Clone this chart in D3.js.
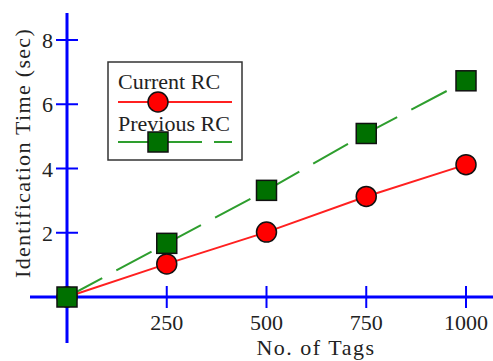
<!DOCTYPE html>
<html><head><meta charset="utf-8">
<script src="https://cdn.jsdelivr.net/npm/d3@7"></script>
<style>html,body{margin:0;padding:0;background:#fff}svg{display:block}</style>
</head><body>
<script>
const tags = [0, 250, 500, 750, 1000];
const currentRC = [0, 1.03, 2.02, 3.13, 4.12];
const previousRC = [0, 1.67, 3.32, 5.09, 6.73];
const xTicks = [250, 500, 750, 1000];
const yTicks = [2, 4, 6, 8];
const seriesNames = ["Current RC", "Previous RC"];

const W = 493, H = 361;
const svg = d3.select("body").append("svg").attr("width", W).attr("height", H);
const x = d3.scaleLinear().domain([0, 1000]).range([67, 466]);
const y = d3.scaleLinear().domain([0, 8]).range([297, 40]);
const font = "'Liberation Serif','Times New Roman',serif";
const blue = "#0000ff";

// axes lines
svg.append("line").attr("x1", x(0)).attr("x2", x(0)).attr("y1", 13).attr("y2", 343)
  .attr("stroke", blue).attr("stroke-width", 3);
svg.append("line").attr("x1", 30).attr("x2", W).attr("y1", y(0)).attr("y2", y(0))
  .attr("stroke", blue).attr("stroke-width", 3);

// y ticks
svg.selectAll(".yt").data(yTicks).enter().append("line")
  .attr("x1", x(0) - 11).attr("x2", x(0) + 11)
  .attr("y1", d => y(d)).attr("y2", d => y(d))
  .attr("stroke", blue).attr("stroke-width", 2);
svg.selectAll(".yl").data(yTicks).enter().append("text")
  .attr("x", 53).attr("y", d => y(d) + 8).attr("text-anchor", "end")
  .attr("font-family", font).attr("font-size", 22).attr("fill", "#222")
  .text(d => d);
// x ticks
svg.selectAll(".xt").data(xTicks).enter().append("line")
  .attr("x1", d => x(d)).attr("x2", d => x(d))
  .attr("y1", y(0) - 11).attr("y2", y(0) + 11)
  .attr("stroke", blue).attr("stroke-width", 2);
svg.selectAll(".xl").data(xTicks).enter().append("text")
  .attr("x", d => x(d)).attr("y", 330).attr("text-anchor", "middle")
  .attr("font-family", font).attr("font-size", 22).attr("fill", "#222")
  .text(d => d);

// axis titles
svg.append("text").attr("x", 316).attr("y", 355).attr("text-anchor", "middle")
  .attr("font-family", font).attr("font-size", 22).attr("fill", "#222")
  .attr("letter-spacing", 1.5).text("No. of Tags");
svg.append("text").attr("transform", "translate(30,153) rotate(-90)")
  .attr("text-anchor", "middle").attr("font-family", font).attr("font-size", 22)
  .attr("fill", "#222").attr("letter-spacing", 1.3).text("Identification Time (sec)");

const line = d3.line().x((d, i) => x(tags[i])).y(d => y(d));
svg.append("path").datum(previousRC).attr("d", line).attr("fill", "none")
  .attr("stroke", "#2e9e2e").attr("stroke-width", 2).attr("stroke-dasharray", "40,16");
svg.append("path").datum(currentRC).attr("d", line).attr("fill", "none")
  .attr("stroke", "#ff2020").attr("stroke-width", 2);

svg.selectAll(".c").data(currentRC).enter().append("circle")
  .attr("cx", (d, i) => x(tags[i])).attr("cy", d => y(d)).attr("r", 10)
  .attr("fill", "#ff0000").attr("stroke", "#111").attr("stroke-width", 1.5);
svg.selectAll(".s").data(previousRC).enter().append("rect")
  .attr("x", (d, i) => x(tags[i]) - 10).attr("y", d => y(d) - 10)
  .attr("width", 20).attr("height", 20)
  .attr("fill", "#007000").attr("stroke", "#111").attr("stroke-width", 1.5);

// legend
const lg = svg.append("g");
lg.append("rect").attr("x", 108).attr("y", 62).attr("width", 134).attr("height", 98)
  .attr("fill", "#fff").attr("stroke", "#333").attr("stroke-width", 1.5);
lg.append("text").attr("x", 118).attr("y", 89).attr("font-family", font).attr("font-size", 22)
  .attr("fill", "#222").text(seriesNames[0]);
lg.append("line").attr("x1", 118).attr("x2", 232).attr("y1", 102).attr("y2", 102)
  .attr("stroke", "#ff2020").attr("stroke-width", 2);
lg.append("circle").attr("cx", 158).attr("cy", 102).attr("r", 10)
  .attr("fill", "#ff0000").attr("stroke", "#111").attr("stroke-width", 1.5);
lg.append("text").attr("x", 118).attr("y", 131).attr("font-family", font).attr("font-size", 22)
  .attr("fill", "#222").text(seriesNames[1]);
lg.append("line").attr("x1", 118).attr("x2", 232).attr("y1", 142).attr("y2", 142)
  .attr("stroke", "#2e9e2e").attr("stroke-width", 2).attr("stroke-dasharray", "84,12");
lg.append("rect").attr("x", 148).attr("y", 132).attr("width", 20).attr("height", 20)
  .attr("fill", "#007000").attr("stroke", "#111").attr("stroke-width", 1.5);
</script>
</body></html>
